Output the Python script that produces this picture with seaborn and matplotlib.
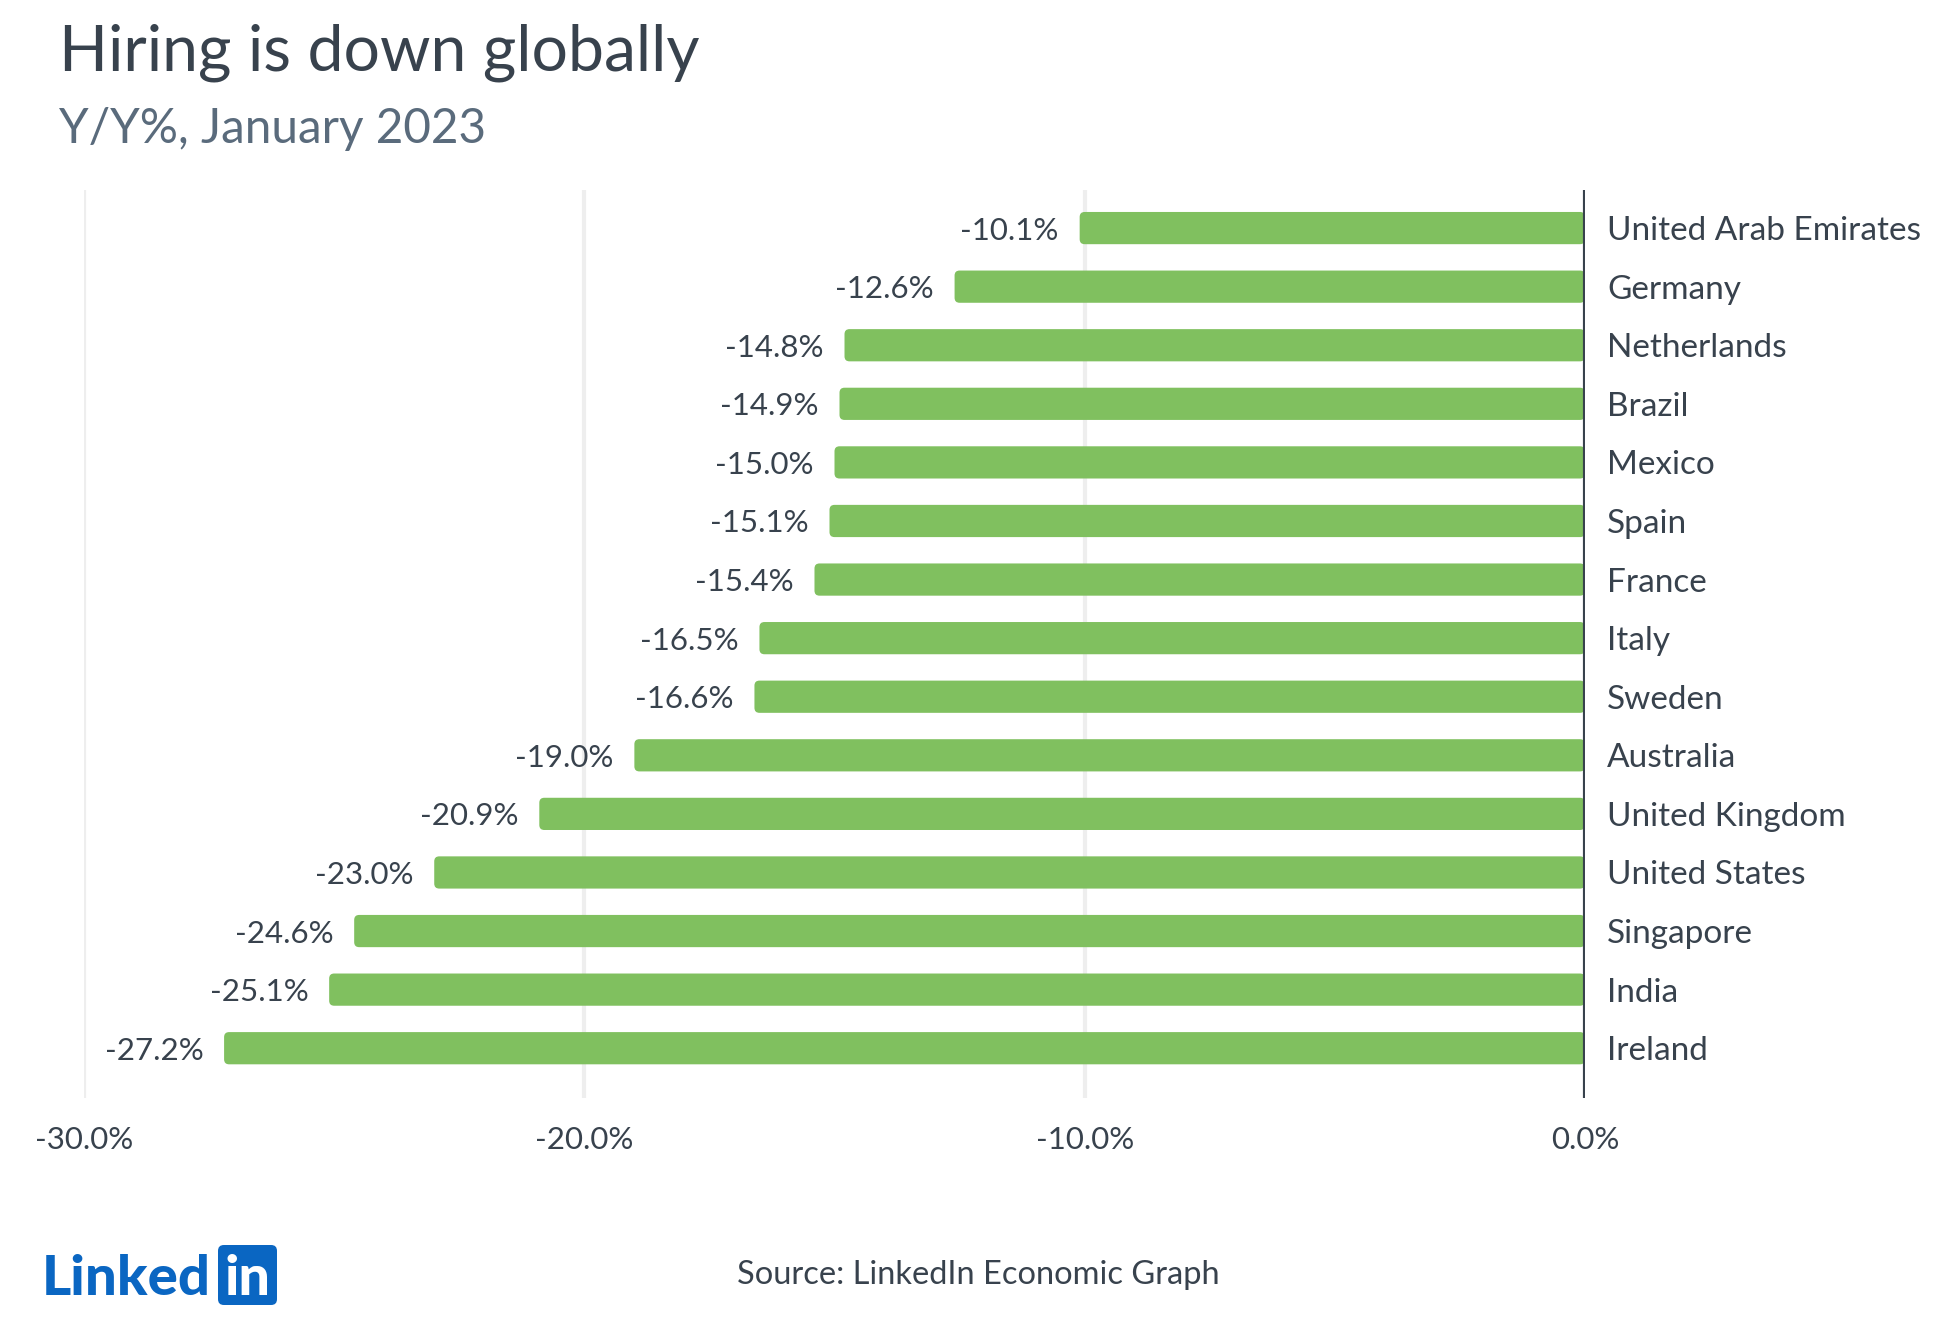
import matplotlib
matplotlib.use("Agg")
import matplotlib.pyplot as plt
import seaborn as sns
import pandas as pd
from matplotlib.patches import FancyBboxPatch

# data (Y/Y %, January 2023)
countries = ["United Arab Emirates", "Germany", "Netherlands", "Brazil", "Mexico",
             "Spain", "France", "Italy", "Sweden", "Australia", "United Kingdom",
             "United States", "Singapore", "India", "Ireland"]
values = [-10.1, -12.6, -14.8, -14.9, -15.0, -15.1, -15.4, -16.5, -16.6,
          -19.0, -20.9, -23.0, -24.6, -25.1, -27.2]
x_ticks = [-30, -20, -10, 0]

TEXT = "#38424D"
SUB = "#5A6B7C"
BAR = "#80C05F"
GRID = "#EEEEEE"
BLUE = "#0A66C2"

sns.set_theme(style="white")
plt.rcParams['font.family'] = ['Lato', 'DejaVu Sans']

W, H = 1957, 1337
ax_l, ax_r, ax_t, ax_b = 84, 1585, 190, 1098
fig = plt.figure(figsize=(W / 100, H / 100), dpi=100)
ax = fig.add_axes([ax_l / W, 1 - ax_b / H, (ax_r - ax_l) / W, (ax_b - ax_t) / H])

df = pd.DataFrame({"country": countries, "value": values})
sns.barplot(data=df, x="value", y="country", orient="h", color=BAR,
            saturation=1, width=0.55, ax=ax, zorder=2)

ylim = (len(countries) - 0.15, -0.65)
ax.set_xlim(x_ticks[0], x_ticks[-1])
ax.set_ylim(*ylim)

# light gridlines, dark zero line
for t in x_ticks[:-1]:
    ax.axvline(t, color=GRID, lw=3, zorder=0, solid_capstyle="round")
ax.axvline(0, color=TEXT, lw=3, zorder=3)

ax.set_xticks(x_ticks)
ax.set_xticklabels([f"{t:.1f}%" for t in x_ticks])
ax.yaxis.tick_right()
ax.tick_params(axis="x", length=0, pad=20, labelsize=22.5, labelcolor=TEXT)
ax.tick_params(axis="y", length=0, pad=16, labelsize=24, labelcolor=TEXT)
ax.set_xlabel("")
ax.set_ylabel("")
for s in ax.spines.values():
    s.set_visible(False)

labels = ax.bar_label(ax.containers[0], fmt="{:.1f}%", padding=15, fontsize=22.5, color=TEXT)
for lb in labels:
    lb.set_va("center_baseline")

# swap the plain rectangles for ones with rounded corners
px_x = (ax_r - ax_l) / (x_ticks[-1] - x_ticks[0])
px_y = (ax_b - ax_t) / (ylim[0] - ylim[1])
for p in list(ax.patches):
    x0 = min(p.get_x(), p.get_x() + p.get_width())
    w = abs(p.get_width())
    rb = FancyBboxPatch((x0, p.get_y()), w, p.get_height(),
                        boxstyle="round,pad=0,rounding_size=0.1",
                        mutation_aspect=px_x / px_y,
                        fc=BAR, ec="none", zorder=2)
    p.remove()
    ax.add_patch(rb)

# titles
fig.text(59 / W, 1 - 70 / H, "Hiring is down globally", fontsize=46.3,
         color=TEXT, va="baseline", ha="left")
fig.text(59 / W, 1 - 143 / H, "Y/Y%, January 2023", fontsize=34.3,
         color=SUB, va="baseline", ha="left")

# footer
fig.text(0.5, 1 - 1284 / H, "Source: LinkedIn Economic Graph", fontsize=23.5,
         color=TEXT, va="baseline", ha="center")

fig.text(42 / W, 1 - 1295 / H, "Linked", fontsize=40.5, fontweight="black",
         color=BLUE, va="baseline", ha="left")
box = FancyBboxPatch((218 / W, 1 - 1305 / H), 59 / W, 60 / H,
                     boxstyle="round,pad=0,rounding_size=0.003",
                     mutation_aspect=W / H, transform=fig.transFigure,
                     fc=BLUE, ec="none")
fig.patches.append(box)
fig.text(247.5 / W, 1 - 1295 / H, "in", fontsize=40, fontweight="black",
         color="white", va="baseline", ha="center")

fig.savefig("out.png", dpi=100)
